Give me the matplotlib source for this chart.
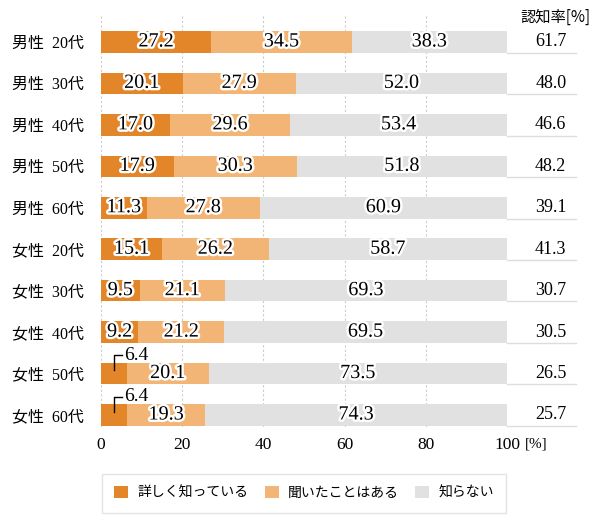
import numpy as np
import matplotlib.pyplot as plt
import matplotlib.patheffects as pe

# data
cats = ['男性 20代', '男性 30代', '男性 40代', '男性 50代', '男性 60代',
        '女性 20代', '女性 30代', '女性 40代', '女性 50代', '女性 60代']
detail = [27.2, 20.1, 17.0, 17.9, 11.3, 15.1, 9.5, 9.2, 6.4, 6.4]
heard = [34.5, 27.9, 29.6, 30.3, 27.8, 26.2, 21.1, 21.2, 20.1, 19.3]
unknown = [38.3, 52.0, 53.4, 51.8, 60.9, 58.7, 69.3, 69.5, 73.5, 74.3]
aware = [61.7, 48.0, 46.6, 48.2, 39.1, 41.3, 30.7, 30.5, 26.5, 25.7]
legend_names = ['詳しく知っている', '聞いたことはある', '知らない']
colors = ['#E3862A', '#F3B576', '#E1E1E1']

serif = ['Liberation Serif', 'Noto Sans CJK JP']
jp = ['Noto Sans CJK JP', 'DejaVu Sans']
# white halo round the value labels
outline = [pe.withStroke(linewidth=3.5, foreground='white')]

fig = plt.figure(figsize=(6, 5.2), dpi=100)
ax = fig.add_axes([101/600, 1-427/520, 406/600, 412/520])

y = np.arange(len(cats))
h = 0.52
left = np.zeros(len(cats))
for vals, c, name in zip([detail, heard, unknown], colors, legend_names):
    ax.barh(y, vals, left=left, height=h, color=c, label=name, zorder=2)
    for i, v in enumerate(vals):
        if v < 8:
            # small value: label above the bar with a leader line
            xm = left[i] + v/2
            ax.plot([xm, xm, xm+2.0], [y[i]-0.08, y[i]-0.44, y[i]-0.44], color='black', lw=1, zorder=4)
            ax.text(xm+2.5, y[i]-0.44, f'{v:.1f}', ha='left', va='center', fontsize=14,
                    family='Liberation Serif', zorder=5)
        else:
            ax.text(left[i] + v/2, y[i], f'{v:.1f}', ha='center', va='center', fontsize=14.5,
                    family='Liberation Serif', zorder=5, path_effects=outline)
    left = left + np.array(vals)

ax.set_xlim(0, 100)
ax.set_ylim(9.29, -0.65)
ax.set_xticks([0, 20, 40, 60, 80, 100])
ax.set_xticklabels(['0', '20', '40', '60', '80', '100'], family='Liberation Serif', fontsize=12.5)
ax.annotate('[%]', xy=(100, 0), xycoords=('data', 'axes fraction'), xytext=(13, -7.5),
            textcoords='offset points', ha='left', va='top', fontsize=11, family='Liberation Serif')
ax.set_yticks(y)
ax.set_yticklabels([c.replace(' ', '  ') for c in cats], family=serif, fontsize=11.5)
ax.tick_params(length=0)
ax.tick_params(axis='y', pad=12.5)
ax.tick_params(axis='x', pad=7)
for s in ax.spines.values():
    s.set_visible(False)
ax.grid(axis='x', color='#cccccc', ls=(0, (2, 2)), lw=0.8, zorder=0)

# 認知率 column
ax.text(120.5, -0.6, '認知率[%]', ha='right', va='center', fontsize=11, family=jp)
for i, v in enumerate(aware):
    ax.text(114.6, y[i], f'{v:.1f}', ha='right', va='center', fontsize=13, family='Liberation Serif')
    ax.plot([100, 117], [y[i]+h/2, y[i]+h/2], color='#dddddd', lw=1, clip_on=False)

leg = fig.legend(loc='center', bbox_to_anchor=(304/600, 1-493/520), ncol=3, frameon=True,
                 fancybox=False, edgecolor='#dddddd', handlelength=1.0, handleheight=1.0,
                 columnspacing=1.2, handletextpad=0.65, borderpad=0.9, borderaxespad=0,
                 prop={'family': jp, 'size': 10})
leg.get_frame().set_linewidth(1)

fig.savefig('out.png', dpi=100)
